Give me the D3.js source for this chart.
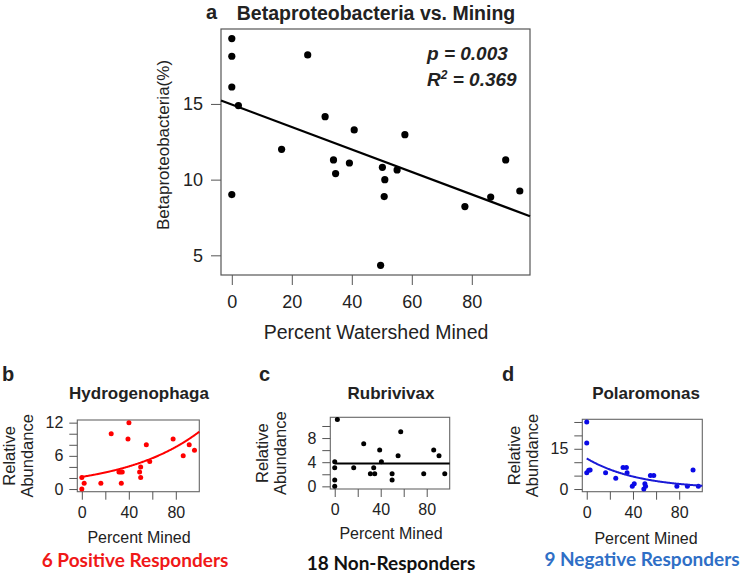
<!DOCTYPE html>
<html>
<head>
<meta charset="utf-8">
<script src="https://cdn.jsdelivr.net/npm/d3@7"></script>
<style>
  body { margin: 0; background: #fff; }
  svg { display: block; }
  text { font-family: "Liberation Sans", Arial, sans-serif; fill: #222; }
  .tick line { stroke: #555; }
</style>
</head>
<body>
<svg id="chart" width="744" height="577"></svg>
<script>
// main panel: Betaproteobacteria (%) vs percent of watershed mined
const mainX = [0, 0, 0, 2.2, 0, 25.3, 16.6, 31.1, 33.9, 34.6, 39.2, 40.8, 50.2, 51.0, 50.8, 49.6, 55.1, 57.7, 77.7, 86.3, 91.3, 96.0];
const mainY = [19.32, 18.15, 16.12, 14.89, 9.01, 18.24, 12.0, 14.16, 11.3, 10.4, 11.1, 13.28, 10.81, 10.0, 8.88, 4.34, 10.64, 12.97, 8.22, 8.85, 11.3, 9.25];
const mainFit = { intercept: 14.96, slope: -0.0742 };
const mainXTicks = [0, 20, 40, 60, 80];
const mainYTicks = [5, 10, 15];

// panel b: Hydrogenophaga (positive responder)
const hydroX = [0, 0, 2, 16.2, 25, 40.1, 39.3, 31.6, 34.4, 33, 33.6, 54.9, 50.1, 49.2, 50.1, 57.8, 77.7, 86.3, 91.4, 95.9];
const hydroY = [0, 2.07, 1.06, 1.06, 10.0, 12.0, 9.04, 3.07, 3.07, 3.07, 1.06, 8.0, 4.0, 3.07, 2.07, 5.0, 9.04, 6.0, 8.0, 7.0];
const hydroFit = { a: 2.2, b: 0.0155 };

// panel c: Rubrivivax (non-responder)
const rubriX = [2.3, 0, 0, 0, 0, 16.5, 25.2, 33.9, 31, 34.8, 39.1, 40.6, 49.9, 49.9, 55.1, 57.4, 77.4, 86.1, 90.7, 95.7];
const rubriY = [11.06, 4.08, 3.07, 1.06, 0, 3.07, 7.04, 3.07, 2.07, 2.07, 6.03, 4.08, 2.07, 1.06, 5.08, 9.05, 2.07, 6.03, 5.08, 2.07];
const rubriFit = { a: 3.8, b: 0 };

// panel d: Polaromonas (negative responder)
const polarX = [0, 0, 0, 1.7, 2.9, 16.3, 25.1, 31.4, 34.3, 34.9, 39.4, 41.1, 49.4, 50.3, 50.9, 55.1, 58, 78, 87.1, 92, 96.6];
const polarY = [25, 17.2, 6.1, 7.0, 7.1, 6.1, 4.0, 8.0, 8.0, 6.1, 1.0, 2.0, 0, 2.0, 1.0, 5.0, 5.0, 1.0, 1.0, 7.1, 1.0];
const polarFit = { a: 11.4, b: -0.0224 };

const smallXTicks = [0, 20, 40, 60, 80];
const smallXLabels = [0, 40, 80];

const svg = d3.select("#chart");

// ---------- main panel ----------
const mx = d3.scaleLinear().domain([-3.6, 99.4]).range([221, 530]);
const my = d3.scaleLinear().domain([3.7, 19.95]).range([275, 29]);

svg.append("rect")
    .attr("x", 221).attr("y", 29)
    .attr("width", 309).attr("height", 246)
    .attr("fill", "none").attr("stroke", "#555").attr("stroke-width", 1.2);

const mainXAxis = svg.append("g")
    .attr("transform", "translate(0,275)")
    .call(d3.axisBottom(mx).tickValues(mainXTicks).tickSize(10).tickPadding(10));
mainXAxis.select(".domain").remove();
mainXAxis.selectAll("text").style("font-size", "18px").attr("fill", "#222");

const mainYAxis = svg.append("g")
    .attr("transform", "translate(221,0)")
    .call(d3.axisLeft(my).tickValues(mainYTicks).tickSize(10).tickPadding(8));
mainYAxis.select(".domain").remove();
mainYAxis.selectAll("text").style("font-size", "18px").attr("fill", "#222");

svg.append("g").selectAll("circle")
    .data(mainX.map((d, i) => [d, mainY[i]]))
    .join("circle")
    .attr("cx", d => mx(d[0]))
    .attr("cy", d => my(d[1]))
    .attr("r", 3.6)
    .attr("fill", "#000");

const mxd = mx.domain();
svg.append("line")
    .attr("x1", mx(mxd[0])).attr("y1", my(mainFit.intercept + mainFit.slope * mxd[0]))
    .attr("x2", mx(mxd[1])).attr("y2", my(mainFit.intercept + mainFit.slope * mxd[1]))
    .attr("stroke", "#000").attr("stroke-width", 2.2);

svg.append("text").attr("x", 206).attr("y", 19)
    .style("font-size", "20px").style("font-weight", "bold").text("a");
svg.append("text").attr("x", 376).attr("y", 20).attr("text-anchor", "middle")
    .style("font-size", "19.5px").style("font-weight", "bold")
    .text("Betaproteobacteria vs. Mining");

const stats = svg.append("g")
    .style("font-family", "Lato, sans-serif")
    .style("font-weight", "bold").style("font-style", "italic")
    .style("font-size", "19px");
stats.append("text").attr("x", 427).attr("y", 60).text("p = 0.003");
const r2 = stats.append("text").attr("x", 427).attr("y", 86);
r2.append("tspan").text("R");
r2.append("tspan").attr("dy", -7).style("font-size", "12px").text("2");
r2.append("tspan").attr("dy", 7).text(" = 0.369");

svg.append("text")
    .attr("transform", "translate(169,145) rotate(-90)")
    .attr("text-anchor", "middle")
    .style("font-size", "17px")
    .text("Betaproteobacteria(%)");

svg.append("text").attr("x", 376).attr("y", 339).attr("text-anchor", "middle")
    .style("font-size", "19.5px").text("Percent Watershed Mined");

// ---------- small panels ----------
function drawPanel(p) {
    const x = d3.scaleLinear().domain([-3.85, 100]).range([p.left, p.right]);
    const y = d3.scaleLinear().domain(p.yDomain).range([p.bottom, p.top]);
    const g = svg.append("g");

    g.append("rect")
        .attr("x", p.left).attr("y", p.top)
        .attr("width", p.right - p.left).attr("height", p.bottom - p.top)
        .attr("fill", "none").attr("stroke", "#666").attr("stroke-width", 1.1);

    const xa = g.append("g")
        .attr("transform", `translate(0,${p.bottom})`)
        .call(d3.axisBottom(x).tickValues(smallXTicks).tickSize(8).tickPadding(7)
            .tickFormat(d => smallXLabels.includes(d) ? d : ""));
    xa.select(".domain").remove();
    xa.selectAll("text").style("font-size", "16px").attr("fill", "#222");

    const ya = g.append("g")
        .attr("transform", `translate(${p.left},0)`)
        .call(d3.axisLeft(y).tickValues(p.yTicks).tickSize(8).tickPadding(6)
            .tickFormat(d => p.yLabels.includes(d) ? d : ""));
    ya.select(".domain").remove();
    ya.selectAll("text").style("font-size", "16px").attr("fill", "#222");

    g.append("g").selectAll("circle")
        .data(p.xs.map((d, i) => [d, p.ys[i]]))
        .join("circle")
        .attr("cx", d => x(d[0]))
        .attr("cy", d => y(d[1]))
        .attr("r", 2.5)
        .attr("fill", p.color);

    const xs = d3.range(0, 100.5, 0.5);
    g.append("path")
        .datum(xs)
        .attr("fill", "none")
        .attr("stroke", p.lineColor)
        .attr("stroke-width", 2)
        .attr("d", d3.line().x(d => x(d)).y(d => y(p.fit.a * Math.exp(p.fit.b * d))));

    const mid = (p.top + p.bottom) / 2;
    g.append("text")
        .attr("transform", `translate(${p.left - 62},${mid}) rotate(-90)`)
        .attr("text-anchor", "middle").style("font-size", "16.5px").text("Relative");
    g.append("text")
        .attr("transform", `translate(${p.left - 44},${mid}) rotate(-90)`)
        .attr("text-anchor", "middle").style("font-size", "16.5px").text("Abundance");

    g.append("text").attr("x", p.letterX).attr("y", 381)
        .style("font-size", "20px").style("font-weight", "bold").text(p.letter);
    g.append("text").attr("x", p.titleX).attr("y", 399).attr("text-anchor", "middle")
        .style("font-size", "17px").style("font-weight", "bold").text(p.title);
    g.append("text").attr("x", p.titleX).attr("y", p.xlabY).attr("text-anchor", "middle")
        .style("font-size", "16px").text("Percent Mined");
    g.append("text").attr("x", p.noteX).attr("y", p.noteY).attr("text-anchor", "middle")
        .style("font-family", "Lato, sans-serif").style("font-weight", "bold")
        .style("font-size", "19px").style("fill", p.noteColor)
        .text(p.note);
}

drawPanel({
    left: 77.3, right: 199.3, top: 420, bottom: 491.7,
    yDomain: [-0.48, 12.48], yTicks: [0, 2, 4, 6, 8, 10, 12], yLabels: [0, 6, 12],
    xs: hydroX, ys: hydroY, fit: hydroFit,
    color: "#ff0000", lineColor: "#ff0000",
    letter: "b", letterX: 2, title: "Hydrogenophaga", titleX: 139, xlabY: 543,
    note: "6 Positive Responders", noteX: 135, noteY: 567, noteColor: "#f01818"
});

drawPanel({
    left: 330.3, right: 449.7, top: 417.3, bottom: 489,
    yDomain: [-0.44, 11.44], yTicks: [0, 2, 4, 6, 8, 10], yLabels: [0, 4, 8],
    xs: rubriX, ys: rubriY, fit: rubriFit,
    color: "#000", lineColor: "#000",
    letter: "c", letterX: 259, title: "Rubrivivax", titleX: 391, xlabY: 539,
    note: "18 Non-Responders", noteX: 391, noteY: 570, noteColor: "#111"
});

drawPanel({
    left: 582.3, right: 702.3, top: 419.3, bottom: 491.7,
    yDomain: [-1, 26], yTicks: [0, 5, 10, 15, 20, 25], yLabels: [0, 15],
    xs: polarX, ys: polarY, fit: polarFit,
    color: "#0a0ae6", lineColor: "#1a1ad6",
    letter: "d", letterX: 502, title: "Polaromonas", titleX: 646, xlabY: 544,
    note: "9 Negative Responders", noteX: 642, noteY: 566, noteColor: "#2f6fc6"
});
</script>
</body>
</html>
